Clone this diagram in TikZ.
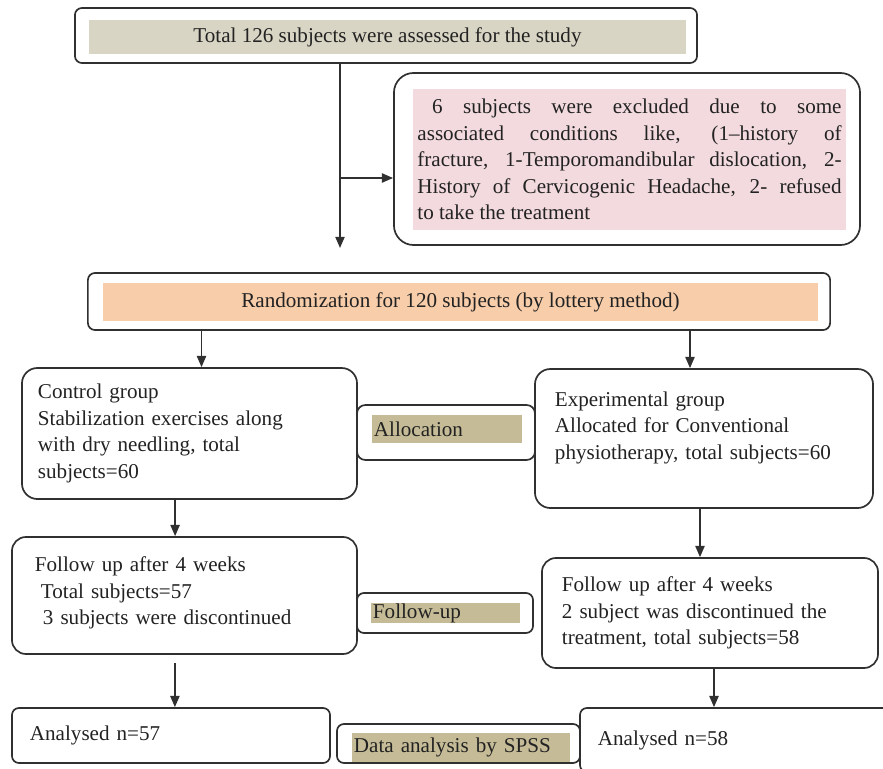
\documentclass[tikz,border=0pt]{standalone}
\usepackage{fontspec}
\setmainfont{Liberation Serif}
\usepackage{tikz}
\usetikzlibrary{positioning, arrows.meta}
\definecolor{khakiBand}{HTML}{D9D5C4}
\definecolor{pinkBand}{HTML}{F2DADE}
\definecolor{peachBand}{HTML}{F7CDAA}
\definecolor{oliveBand}{HTML}{C5BC97}
\definecolor{lineGray}{HTML}{303030}
\definecolor{textGray}{HTML}{222222}

\begin{document}
\begin{tikzpicture}[
  x=0.025cm, y=-0.025cm,
  >={Triangle[length=2.8mm, width=2.3mm]},
  flow/.style={->, draw=lineGray, line width=1.2pt},
  frame/.style={draw=lineGray, line width=1.2pt, fill=white,
                rounded corners=5pt, inner sep=0pt},
  band/.style={inner sep=0pt, align=center},
  tag/.style={fill=oliveBand, inner xsep=0.05cm, inner ysep=0pt, align=left},
  groupbox/.style={draw=lineGray, line width=1.2pt, rounded corners=11pt,
                   align=left, inner ysep=0pt},
  every node/.style={font=\fontsize{15}{18.8}\selectfont, text=textGray}
]
  \useasboundingbox (0,0) rectangle (883,769);
  \clip (0,0) rectangle (883,769);

  % screening
  \node[frame, minimum width=15.55cm, minimum height=1.375cm] (totalframe) at (386,35.5) {};
  \node[band, fill=khakiBand, minimum width=14.925cm, minimum height=0.85cm]
    (totalband) at (387.5,37) {Total 126 subjects were assessed for the study};
  \node[frame, rounded corners=14pt, minimum width=11.65cm, minimum height=4.3cm]
    (exclframe) at (627,159) {};
  \node[band, fill=pinkBand, text width=10.6cm, inner xsep=0.11cm,
        minimum height=3.525cm, align=justify] (exclband) at (629.5,159.5)
    {\hspace*{0.7em}6 subjects were excluded due to some\linebreak
     associated conditions like, (1--history of\linebreak
     fracture, 1-Temporomandibular dislocation, 2-\linebreak
     History of Cervicogenic Headache, 2- refused\linebreak
     to take the treatment};

  % randomization
  \node[frame, minimum width=18.55cm, minimum height=1.425cm] (randframe) at (459,301.5) {};
  \node[band, fill=peachBand, minimum width=17.875cm, minimum height=0.95cm]
    (randband) at (460.5,302) {Randomization for 120 subjects (by lottery method)};

  % allocation
  \node[groupbox, text width=7.575cm, inner xsep=0.4cm, minimum height=3.275cm]
    (control) at (189.5,433.5)
    {Control group\\Stabilization exercises along\\with dry needling, total\\subjects=60};
  \node[frame, rounded corners=6pt, minimum width=4.45cm, minimum height=1.375cm]
    (allocframe) at (446,432.5) {};
  \node[tag, text width=3.65cm, minimum height=0.7cm] (allocband) at (447,429) {Allocation};
  \node[groupbox, text width=7.45cm, inner xsep=0.5cm, minimum height=3.475cm]
    (exp) at (704,438.5)
    {Experimental group\\Allocated for Conventional\\physiotherapy, total subjects=60\\ \mbox{}};

  % follow-up
  \node[groupbox, rounded corners=10pt, text width=7.475cm, inner xsep=0.575cm,
        minimum height=2.925cm] (fuL) at (184.5,595.5)
    {Follow up after 4 weeks\\ \hspace*{0.15cm}Total subjects=57\\
     \hspace*{0.2cm}3 subjects were discontinued\\[-12pt] \mbox{}};
  \node[frame, minimum width=4.4cm, minimum height=1.0cm] (fuframe) at (445,613) {};
  \node[tag, text width=3.625cm, minimum height=0.5cm] (fuband) at (445.5,613) {Follow-up};
  \node[groupbox, rounded corners=10pt, text width=7.4cm, inner xsep=0.5cm,
        minimum height=2.75cm] (fuR) at (710,613)
    {Follow up after 4 weeks\\2 subject was discontinued the\\treatment, total subjects=58};

  % analysis
  \node[groupbox, rounded corners=5pt, text width=7.05cm, inner xsep=0.45cm,
        minimum height=1.375cm] (anL) at (171,735.5) {Analysed n=57};
  \node[frame, minimum width=6.075cm, minimum height=0.975cm] (dataframe) at (458.5,743.5) {};
  \node[tag, text width=5.35cm, minimum height=0.725cm] (databand) at (461,747.5)
    {Data analysis by SPSS};
  \node[groupbox, rounded corners=5pt, text width=7.225cm, inner xsep=0.45cm,
        minimum height=1.6cm] (anR) at (742.5,740) {Analysed n=58};

  % connectors
  \coordinate (tip) at (340,248);
  \coordinate (branch) at (340,178);
  \draw[flow] (totalframe.south -| tip) -- (tip);
  \draw[flow] (branch) -- (branch -| exclframe.west);
  \draw[flow] ([xshift=0.3cm]control.north |- randframe.south) -- ([xshift=0.3cm]control.north);
  \draw[flow] ([xshift=-0.35cm]exp.north |- randframe.south) -- ([xshift=-0.35cm]exp.north);
  \draw[flow] ([xshift=-0.36cm]control.south) -- ([xshift=-0.36cm]control.south |- fuL.north);
  \draw[flow] ([xshift=-0.1cm]exp.south) -- ([xshift=-0.1cm]exp.south |- fuR.north);
  \draw[flow, shorten <=0.2cm] ([xshift=-0.24cm]fuL.south) -- ([xshift=-0.24cm]fuL.south |- anL.north);
  \draw[flow] ([xshift=0.1cm]fuR.south) -- ([xshift=0.1cm]fuR.south |- anR.north);
\end{tikzpicture}
\end{document}
